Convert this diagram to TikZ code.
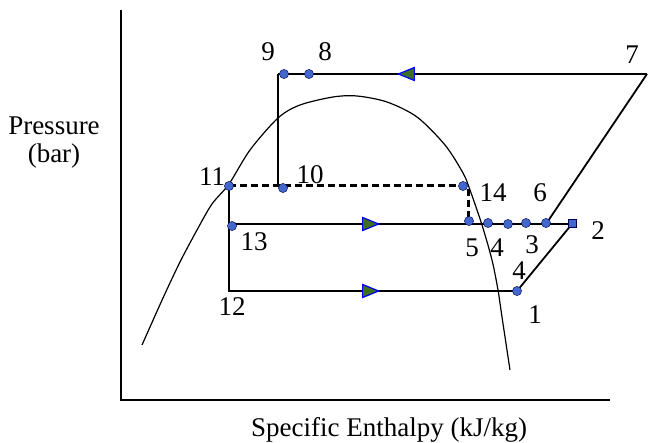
\documentclass[tikz,border=0pt]{standalone}
\usepackage{fontspec}
\setmainfont{Liberation Serif}
\usetikzlibrary{shapes.geometric}
\definecolor{dotblue}{RGB}{66,104,204}
\definecolor{arrowgreen}{RGB}{62,112,32}

\begin{document}
\begin{tikzpicture}[
	x=0.5pt, y=-0.5pt,
	every node/.style={ font=\fontsize{13.5}{14}\selectfont },
	state/.style={ circle, draw=blue!30!black, very thin, fill=dotblue, inner sep=0pt, minimum size=4.6pt },
	statesq/.style={ rectangle, draw=blue!30!black, very thin, fill=dotblue, inner sep=0pt, minimum size=4.2pt },
	num/.style={ inner sep=0pt },
	line/.style={ line width=0.9pt },
	dashline/.style={ line width=1.5pt, dash pattern=on 3.5pt off 2pt },
	dome/.style={ line width=0.6pt },
	flowr/.style={ isosceles triangle, isosceles triangle stretches, draw=blue, fill=arrowgreen, line width=0.6pt, inner sep=0pt, minimum width=6.5pt, minimum height=8pt },
	flowl/.style={ flowr, shape border rotate=180 }
]
\useasboundingbox (0,0) rectangle (649,443);

% axes
\coordinate (ytop) at (121,10);
\coordinate (org) at (121,400);
\coordinate (xend) at (610,400);
\draw[line width=1.1pt] (ytop) -- (org) -- (xend);
\node at (54,143) (ylab) [align=center] {Pressure\\(bar)};
\node at (389,430) (xlab) {Specific Enthalpy (kJ/kg)};

% saturation dome
\draw[dome] plot[smooth, tension=0.5] coordinates {(142,345) (163,298) (180,262) (197,230) (212,204) (229,184) (250,150) (278,118) (300,105) (333,97) (357,96) (387,102) (417,117) (445,145) (463,173) (470,190) (482,225) (492,260) (498,290) (502,317) (510,370)};

% state points
\coordinate (p9c) at (278,74);
\coordinate (p7) at (647,74);
\coordinate (p10c) at (278,186);
\coordinate (p11) at (229,186);
\coordinate (p5) at (468,222);
\coordinate (p13c) at (229,224);
\coordinate (p2) at (572,224);
\coordinate (p6) at (546,224);
\coordinate (p1) at (517,291);

\draw[line] (p9c) -- (p7);
\draw[line] (p7) -- (p6);
\draw[line] (p9c) -- (p10c);
\draw[dashline] (p11) -| (p5);
\draw[line] (p11) |- (p1);
\draw[line] (p13c) -- (p2);
\draw[line] (p2) -- (p1);

\node at (367,224) (fa) [flowr] {};
\node at (367,291) (fb) [flowr] {};
\node at (410,74) (fc) [flowl] {};

\node at (284,74) (s9) [state] {};
\node at (309,74) (s8) [state] {};
\node at (283,188) (s10) [state] {};
\node at (229,186) (s11) [state] {};
\node at (463,186) (s14) [state] {};
\node at (469,221) (s5) [state] {};
\node at (488,223) (s4) [state] {};
\node at (508,224) (s3a) [state] {};
\node at (526,223) (s3) [state] {};
\node at (546,223) (s6) [state] {};
\node at (572,223) (s2) [statesq] {};
\node at (517,291) (s1) [state] {};
\node at (232,226) (s13) [state] {};

% labels
\node at (268,52) (t9) [num] {9};
\node at (325,52) (t8) [num] {8};
\node at (632,55) (t7) [num] {7};
\node at (212,177) (t11) [num] {11};
\node at (310,175) (t10) [num] {10};
\node at (493,193) (t14) [num] {14};
\node at (540,193) (t6) [num] {6};
\node at (254,242) (t13) [num] {13};
\node at (472,248) (t5) [num] {5};
\node at (497,248) (t4) [num] {4};
\node at (532,245) (t3) [num] {3};
\node at (598,231) (t2) [num] {2};
\node at (519,271) (t4b) [num] {4};
\node at (232,307) (t12) [num] {12};
\node at (535,315) (t1) [num] {1};

\end{tikzpicture}
\end{document}
